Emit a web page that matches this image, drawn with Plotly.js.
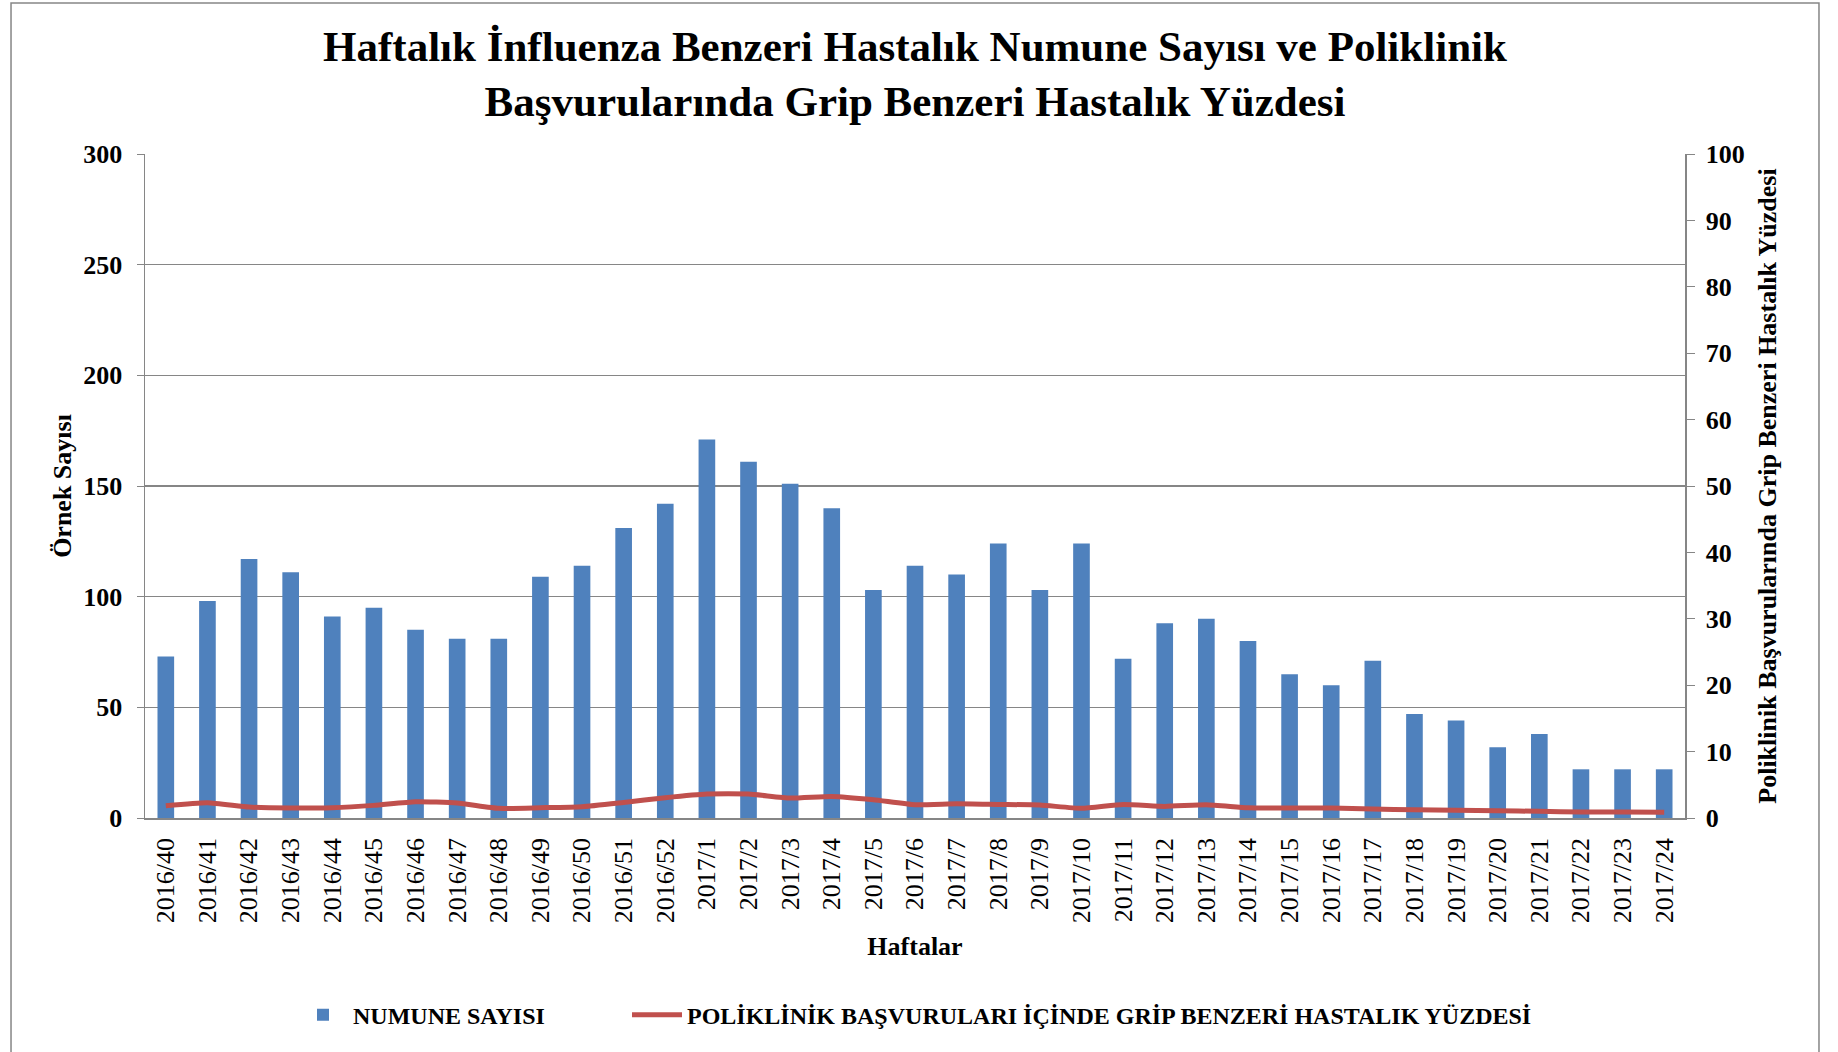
<!DOCTYPE html>
<html>
<head>
<meta charset="utf-8">
<script src="https://cdn.plot.ly/plotly-3.0.1.min.js"></script>
<style>
html,body{margin:0;padding:0;background:#fff;}
#chart{width:1838px;height:1052px;}
</style>
</head>
<body>
<div id="chart"></div>
<script>
const weeks = ["2016/40","2016/41","2016/42","2016/43","2016/44","2016/45","2016/46","2016/47","2016/48","2016/49","2016/50","2016/51","2016/52","2017/1","2017/2","2017/3","2017/4","2017/5","2017/6","2017/7","2017/8","2017/9","2017/10","2017/11","2017/12","2017/13","2017/14","2017/15","2017/16","2017/17","2017/18","2017/19","2017/20","2017/21","2017/22","2017/23","2017/24"];
const numuneSayisi = [73,98,117,111,91,95,85,81,81,109,114,131,142,171,161,151,140,103,114,110,124,103,124,72,88,90,80,65,60,71,47,44,32,38,22,22,22];
const gbhYuzdesi = [1.85,2.3,1.65,1.5,1.55,1.9,2.45,2.25,1.45,1.55,1.7,2.35,3.05,3.6,3.6,3.0,3.25,2.75,2.0,2.15,2.05,1.95,1.45,2.05,1.75,2.0,1.55,1.5,1.5,1.35,1.25,1.15,1.1,1.0,0.9,0.9,0.85];

const FONT = "Liberation Serif, Times New Roman, serif";
const axisGray = "#868686";

const traces = [
  {
    type: "bar",
    name: "NUMUNE SAYISI",
    x: weeks,
    y: numuneSayisi,
    marker: {color: "#4F81BD"},
    yaxis: "y",
    legendwidth: 269
  },
  {
    type: "scatter",
    mode: "lines",
    name: "POLİKLİNİK BAŞVURULARI İÇİNDE GRİP BENZERİ HASTALIK YÜZDESİ",
    x: weeks,
    y: gbhYuzdesi,
    line: {color: "#C0504D", width: 5, shape: "spline", smoothing: 0.5},
    yaxis: "y2"
  }
];

const layout = {
  width: 1838,
  height: 1052,
  paper_bgcolor: "#fff",
  plot_bgcolor: "#fff",
  font: {family: FONT, color: "#000", size: 26, weight: "bold"},
  margin: {l: 145, r: 153, t: 154, b: 234},
  bargap: 0.6,
  showlegend: true,
  title: {
    text: "Haftalık İnfluenza Benzeri Hastalık Numune Sayısı ve Poliklinik<br>Başvurularında Grip Benzeri Hastalık Yüzdesi",
    font: {family: FONT, size: 43, color: "#000", weight: "bold"},
    x: 0.5, xanchor: "center", xref: "paper",
    yref: "container", y: 0.9424, yanchor: "middle"
  },
  xaxis: {
    type: "category",
    automargin: false,
    tickangle: -90,
    tickfont: {family: FONT, size: 26, color: "#000", weight: "normal"},
    showline: true,
    linecolor: axisGray,
    linewidth: 1.5,
    ticks: "",
    ticklabelstandoff: 8,
    showgrid: false,
    title: {text: "Haftalar", font: {family: FONT, size: 26, weight: "bold"}, standoff: 14}
  },
  yaxis: {
    range: [0, 300],
    dtick: 50,
    automargin: false,
    tickfont: {family: FONT, size: 26, weight: "bold"},
    showline: true,
    linecolor: axisGray,
    linewidth: 1.5,
    ticks: "outside",
    ticklen: 7,
    tickcolor: axisGray,
    ticklabelstandoff: 9,
    showgrid: true,
    gridcolor: axisGray,
    gridwidth: 1.3,
    zeroline: false,
    title: {text: "Örnek Sayısı", font: {family: FONT, size: 26, weight: "bold"}, standoff: 4}
  },
  yaxis2: {
    range: [0, 100],
    dtick: 10,
    overlaying: "y",
    side: "right",
    automargin: false,
    tickfont: {family: FONT, size: 26, weight: "bold"},
    showline: true,
    linecolor: axisGray,
    linewidth: 1.5,
    ticks: "outside",
    ticklen: 8,
    tickcolor: axisGray,
    ticklabelstandoff: 6,
    showgrid: false,
    zeroline: false,
    title: {text: "Poliklinik Başvurularında Grip Benzeri Hastalık Yüzdesi", font: {family: FONT, size: 26, weight: "bold"}, standoff: 14}
  },
  legend: {
    orientation: "h",
    x: 0.5, xanchor: "center", xref: "paper",
    yref: "container", y: 0.035, yanchor: "middle",
    font: {family: FONT, size: 24, weight: "bold"},
    itemwidth: 50,
    tracegroupgap: 0,
    bgcolor: "rgba(0,0,0,0)"
  },
  shapes: [
    {type: "rect", xref: "paper", yref: "paper",
     x0: -0.087, x1: 1.087, y0: -0.36, y1: 1.2274,
     line: {color: axisGray, width: 1.5}, fillcolor: "rgba(0,0,0,0)", layer: "below"}
  ]
};

Plotly.newPlot("chart", traces, layout, {displayModeBar: false, staticPlot: true});
</script>
</body>
</html>
